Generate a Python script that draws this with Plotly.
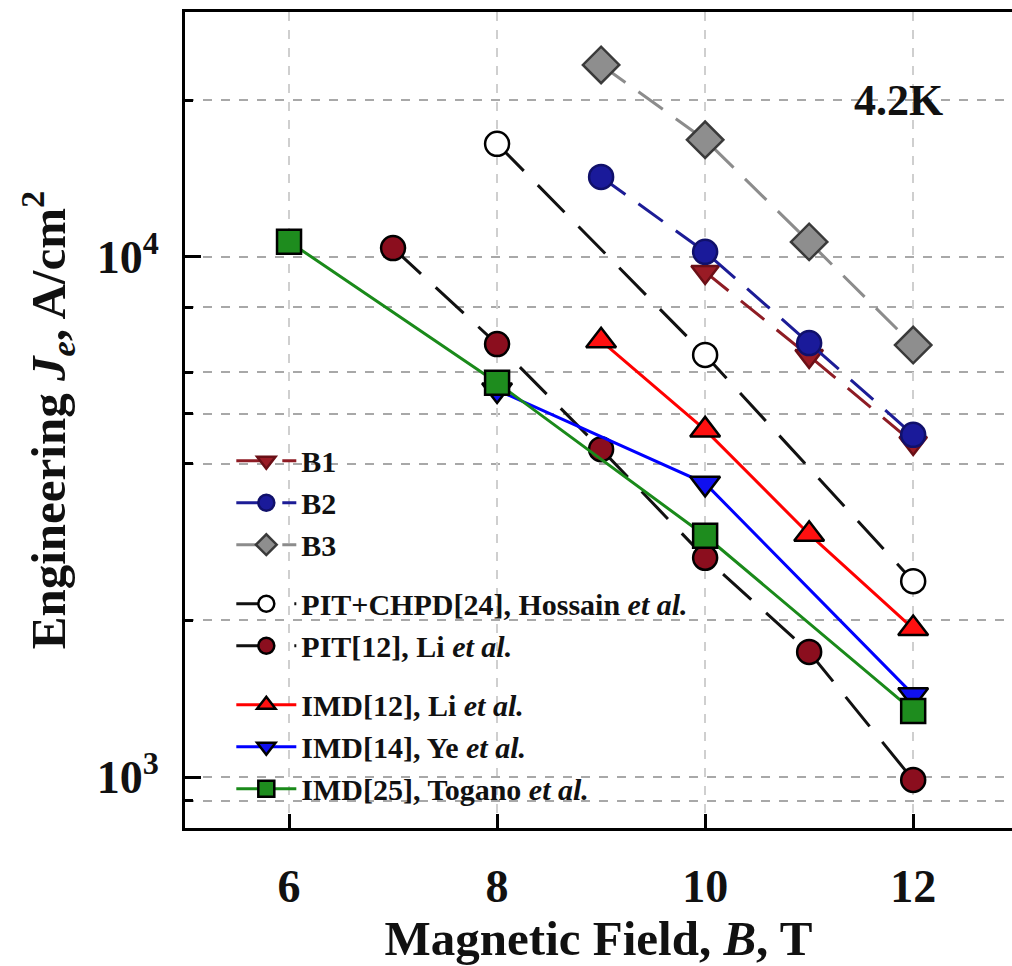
import plotly.graph_objects as go

# Engineering critical current density at 4.2 K vs applied field
b1_x = [10, 11, 12]
b1_y = [9360, 6450, 4390]

b2_x = [9, 10, 11, 12]
b2_y = [14250, 10230, 6830, 4550]

b3_x = [9, 10, 11, 12]
b3_y = [23400, 16800, 10690, 6770]

pit_chpd_x = [8, 10, 12]
pit_chpd_y = [16500, 6480, 2380]

pit_li_x = [7, 8, 9, 10, 11, 12]
pit_li_y = [10400, 6800, 4270, 2640, 1740, 987]

imd_li_x = [9, 10, 11, 12]
imd_li_y = [6900, 4650, 2930, 1930]

imd_ye_x = [8, 10, 12]
imd_ye_y = [5550, 3670, 1440]

imd_togano_x = [6, 8, 10, 12]
imd_togano_y = [10700, 5730, 2910, 1340]

names = {
    "b1": "B1",
    "b2": "B2",
    "b3": "B3",
    "pit_chpd": "PIT+CHPD[24], Hossain <i>et al.</i>",
    "pit_li": "PIT[12], Li <i>et al.</i>",
    "imd_li": "IMD[12], Li <i>et al.</i>",
    "imd_ye": "IMD[14], Ye <i>et al.</i>",
    "imd_togano": "IMD[25], Togano <i>et al.</i>",
}

x_tickvals = [6, 8, 10, 12]
y_major = [1000, 10000]
y_major_text = ["10<sup>3</sup>", "10<sup>4</sup>"]
y_minor_grid = [900, 2000, 4000, 5000, 6000, 8000, 20000]
y_minor_plain = [3000, 7000, 9000]

FONT = "Times New Roman, Liberation Serif, serif"
DASH_B = "30px,16px"
DASH_K = "38px,20px"

fig = go.Figure()


def add(x, y, name, group, line_color, dash, symbol, fill, outline, size=24):
    fig.add_trace(go.Scatter(
        x=x, y=y, name=name, legendgroup=group, mode="lines+markers",
        line=dict(color=line_color, width=3, dash=dash),
        marker=dict(symbol=symbol, size=size, color=fill,
                    line=dict(color=outline, width=2.5)),
    ))


add(b1_x, b1_y, names["b1"], "b", "#8E1C24", DASH_B, "triangle-down", "#9A1B25", "#6A0F16")
add(b2_x, b2_y, names["b2"], "b", "#1C1C96", DASH_B, "circle", "#1A1A9A", "#10106A")
add(b3_x, b3_y, names["b3"], "b", "#8C8C8C", DASH_B, "diamond", "#8E8E8E", "#3A3A3A", 28)
add(pit_chpd_x, pit_chpd_y, names["pit_chpd"], "pit", "#111111", DASH_K, "circle", "#FFFFFF", "#000000")
add(pit_li_x, pit_li_y, names["pit_li"], "pit", "#111111", DASH_K, "circle", "#8B0E1E", "#000000")
add(imd_li_x, imd_li_y, names["imd_li"], "imd", "#FF0000", "solid", "triangle-up", "#FF1010", "#000000", 26)
add(imd_ye_x, imd_ye_y, names["imd_ye"], "imd", "#0000FF", "solid", "triangle-down", "#1010F0", "#000000", 26)
add(imd_togano_x, imd_togano_y, names["imd_togano"], "imd", "#1A8A1A", "solid", "square", "#1E8C1E", "#000000", 24)

fig.add_annotation(
    x=0.919, y=0.892, xref="paper", yref="paper", text="4.2K", showarrow=False,
    xanchor="right", yanchor="middle",
    font=dict(family=FONT, size=44, color="#111111", weight="bold"),
)

grid_col = "#A8A8A8"
vgrid_col = "#CFCFCF"

fig.update_layout(
    width=1012, height=966,
    margin=dict(l=185, r=0, t=12, b=138),
    paper_bgcolor="white", plot_bgcolor="white",
    showlegend=True,
    legend=dict(
        x=0.056, y=0.482, xanchor="left", yanchor="top",
        bgcolor="rgba(0,0,0,0)", borderwidth=0,
        traceorder="grouped", tracegroupgap=17, itemwidth=60,
        font=dict(family=FONT, size=30, color="#111111", weight="bold"),
    ),
    xaxis=dict(
        range=[5, 12.95], tickvals=x_tickvals,
        ticks="inside", ticklen=14, tickwidth=3, tickcolor="#000000",
        showline=True, linecolor="#000000", linewidth=3, mirror=True,
        showgrid=True, gridcolor=vgrid_col, griddash="dash", gridwidth=1.5,
        zeroline=False, ticklabelstandoff=16,
        tickfont=dict(family=FONT, size=46, color="#111111", weight="bold"),
        title=dict(text="Magnetic Field, <i>B</i>, T", standoff=16,
                   font=dict(family=FONT, size=49, color="#111111", weight="bold")),
    ),
    yaxis=dict(
        type="log", range=[2.902, 4.471],
        tickvals=y_major, ticktext=y_major_text,
        ticks="inside", ticklen=16, tickwidth=3, tickcolor="#000000",
        showline=True, linecolor="#000000", linewidth=3, mirror=False,
        showgrid=True, gridcolor=grid_col, griddash="dash", gridwidth=1.5,
        zeroline=False, ticklabelstandoff=14,
        minor=dict(tickvals=y_minor_grid, ticks="inside", ticklen=8, tickwidth=3,
                   tickcolor="#000000", showgrid=True, gridcolor=grid_col,
                   griddash="dash", gridwidth=1.5),
        tickfont=dict(family=FONT, size=46, color="#111111", weight="bold"),
        title=dict(text="Engineering <i>J</i><sub><i>e</i></sub>, A/cm<sup>2</sup>",
                   standoff=16,
                   font=dict(family=FONT, size=49, color="#111111", weight="bold")),
    ),
    yaxis2=dict(
        type="log", range=[2.902, 4.471], overlaying="y", anchor="x", side="left",
        tickvals=y_minor_plain, showticklabels=False,
        ticks="inside", ticklen=8, tickwidth=3, tickcolor="#000000",
        showgrid=False, showline=False, zeroline=False,
    ),
)

fig.write_html("out.html")
